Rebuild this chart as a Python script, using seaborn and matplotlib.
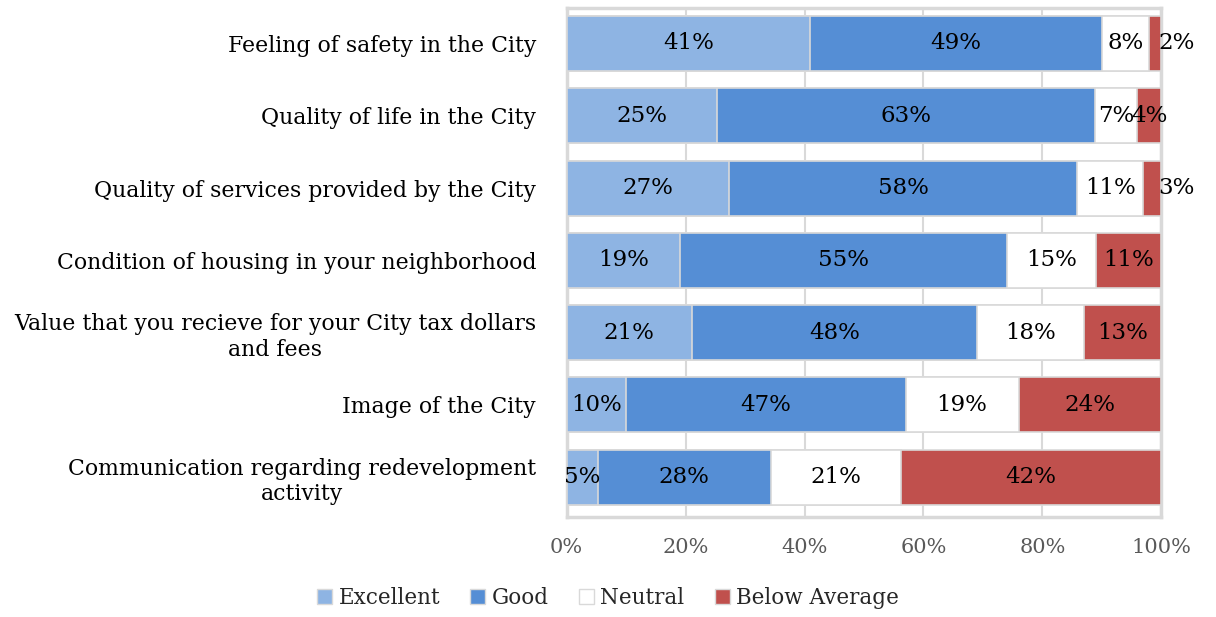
"""
City survey ratings - 100% stacked horizontal bars
"""

import matplotlib.pyplot as plt
import seaborn as sns
import numpy as np
import pandas as pd
from matplotlib.patches import Patch

categories = [
    'Feeling of safety in the City',
    'Quality of life in the City',
    'Quality of services provided by the City',
    'Condition of housing in your neighborhood',
    'Value that you recieve for your City tax dollars\nand fees',
    'Image of the City',
    'Communication regarding redevelopment\nactivity',
]
excellent = [41, 25, 27, 19, 21, 10, 5]
good = [49, 63, 58, 55, 48, 47, 28]
neutral = [8, 7, 11, 15, 18, 19, 21]
below_average = [2, 4, 3, 11, 13, 24, 42]

series_names = ['Excellent', 'Good', 'Neutral', 'Below Average']
colors = ['#8EB4E3', '#558ED5', '#FFFFFF', '#C0504D']
x_ticks = [0, 20, 40, 60, 80, 100]

sns.set_theme(style='white')
plt.rcParams['font.family'] = ['DejaVu Serif']

raw = np.array([excellent, good, neutral, below_average], dtype=float)
shares = raw / raw.sum(axis=0) * 100
cum = np.cumsum(shares, axis=0)

fig = plt.figure(figsize=(12.16, 6.17), dpi=100)
ax = fig.add_axes([0.466, 0.162, 0.489, 0.825])

grid_color = '#D9D9D9'
# draw widest cumulative layer first so narrower ones sit on top
for i in range(len(series_names) - 1, -1, -1):
    df = pd.DataFrame({'cat': categories, 'val': cum[i]})
    sns.barplot(data=df, x='val', y='cat', orient='h', color=colors[i],
                saturation=1, width=0.76, edgecolor=grid_color,
                linewidth=1.2, ax=ax, zorder=3)

# data labels
for i in range(len(series_names)):
    for j in range(len(categories)):
        left = cum[i][j] - shares[i][j]
        label = f'{int(raw[i][j])}%'
        if i == len(series_names) - 1 and raw[i][j] <= 3:
            ax.text(cum[i][j] - 0.5, j, label, ha='left', va='center',
                    fontsize=16.5, color='black', zorder=5)
        else:
            ax.text(left + shares[i][j] / 2, j, label, ha='center',
                    va='center', fontsize=16.5, color='black', zorder=5)

ax.set_xlim(0, 100)
ax.set_ylim(6.55, -0.49)
ax.set_xticks(x_ticks)
ax.set_xticklabels([f'{t}%' for t in x_ticks], fontsize=15, color='#595959')
ax.set_xlabel('')
ax.set_ylabel('')
ax.tick_params(axis='x', length=0, pad=15)
ax.tick_params(axis='y', length=0, pad=22, labelsize=15.8)
for lbl in ax.get_yticklabels():
    lbl.set_multialignment('center')
    lbl.set_color('black')

ax.grid(axis='x', color=grid_color, linewidth=1.5, zorder=0)
ax.set_axisbelow(True)
for spine in ax.spines.values():
    spine.set_visible(True)
    spine.set_color(grid_color)
    spine.set_linewidth(2.5)

handles = [Patch(facecolor=c, edgecolor=grid_color, linewidth=1)
           for c in colors]
fig.legend(handles, series_names, loc='center', bbox_to_anchor=(0.5, 0.031),
           ncol=4, frameon=False, fontsize=15.5, handlelength=0.7,
           handleheight=0.7, handletextpad=0.3, columnspacing=1.4)

plt.savefig('out.png', dpi=100)
